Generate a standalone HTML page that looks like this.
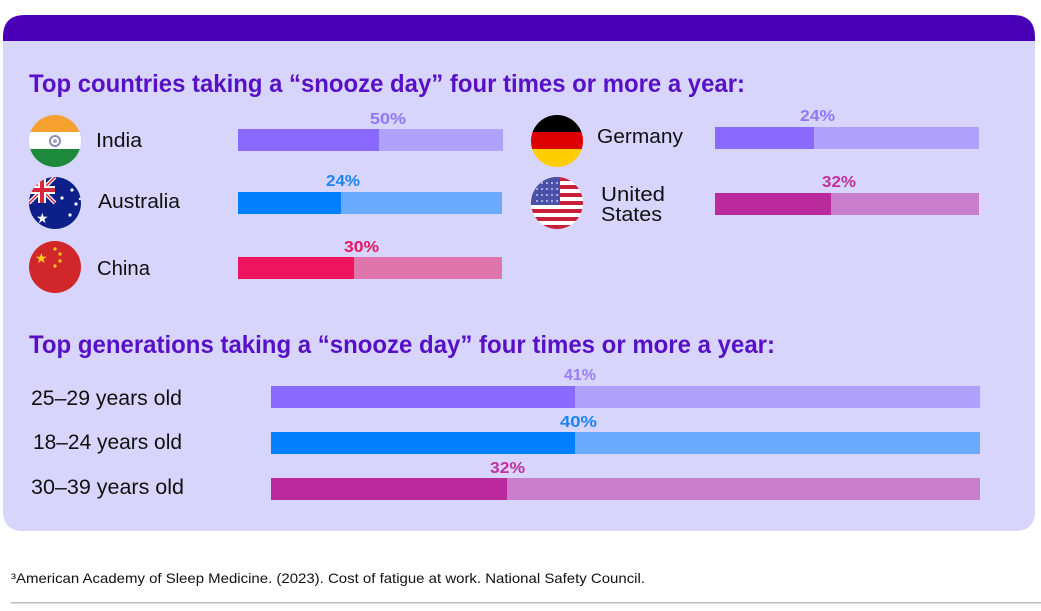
<!DOCTYPE html>
<html><head><meta charset="utf-8"><style>
html,body{margin:0;padding:0;background:#fff;}
svg{display:block;}
text{font-family:"Liberation Sans",sans-serif;}
</style></head><body>
<svg width="1041" height="611" viewBox="0 0 1041 611" xmlns="http://www.w3.org/2000/svg">
<defs>
<clipPath id="cIn"><circle cx="55" cy="141" r="26"/></clipPath>
<clipPath id="cAu"><circle cx="55" cy="203" r="26"/></clipPath>
<clipPath id="cCn"><circle cx="55" cy="267" r="26"/></clipPath>
<clipPath id="cDe"><circle cx="557" cy="141" r="26"/></clipPath>
<clipPath id="cUs"><circle cx="557" cy="203" r="26"/></clipPath>
</defs>
<!-- card -->
<path d="M3,37 Q3,15 25,15 L1013,15 Q1035,15 1035,37 L1035,511 Q1035,531 1015,531 L23,531 Q3,531 3,511 Z" fill="#d7d5fc"/>
<path d="M3,41 L3,37 Q3,15 25,15 L1013,15 Q1035,15 1035,37 L1035,41 Z" fill="#4a00b6"/>

<text x="29" y="92" font-size="25" font-weight="bold" fill="#5710c6" textLength="716" lengthAdjust="spacingAndGlyphs">Top countries taking a “snooze day” four times or more a year:</text>

<!-- India -->
<g clip-path="url(#cIn)">
<rect x="29" y="115" width="52" height="18" fill="#f6a02f"/>
<rect x="29" y="132" width="52" height="18" fill="#ffffff"/>
<rect x="29" y="149" width="52" height="19" fill="#1d8a3b"/>
<circle cx="55" cy="141" r="5" fill="none" stroke="#8a8ab8" stroke-width="2"/>
<circle cx="55" cy="141" r="2" fill="#a0a0c8"/>
</g>
<text x="96" y="147" font-size="20" fill="#111" textLength="46" lengthAdjust="spacingAndGlyphs">India</text>
<rect x="238" y="129" width="265" height="22" fill="#b0a1fc"/>
<rect x="238" y="129" width="141" height="22" fill="#8a6afe"/>
<text x="370" y="124" font-size="16" font-weight="bold" fill="#9177f8" textLength="36" lengthAdjust="spacingAndGlyphs">50%</text>

<!-- Australia -->
<g clip-path="url(#cAu)">
<rect x="29" y="177" width="52" height="52" fill="#0d1f8a"/>
<path d="M29,177 L55,203 M55,177 L29,203" stroke="#fff" stroke-width="4"/>
<path d="M29,177 L55,203 M55,177 L29,203" stroke="#d8263a" stroke-width="1.5"/>
<rect x="29" y="186" width="26" height="8" fill="#fff"/>
<rect x="38" y="177" width="8" height="26" fill="#fff"/>
<rect x="29" y="188" width="26" height="4" fill="#d8263a"/>
<rect x="40" y="177" width="4" height="26" fill="#d8263a"/>
<text x="36" y="223" font-size="14" fill="#fff">★</text>
<circle cx="72" cy="190" r="1.6" fill="#fff"/>
<circle cx="62" cy="198" r="1.6" fill="#fff"/>
<circle cx="76" cy="204" r="1.6" fill="#fff"/>
<circle cx="70" cy="215" r="1.6" fill="#fff"/>
<circle cx="80" cy="199" r="1.2" fill="#fff"/>
</g>
<text x="98" y="208" font-size="20" fill="#111" textLength="82" lengthAdjust="spacingAndGlyphs">Australia</text>
<rect x="238" y="192" width="264" height="22" fill="#6aaafe"/>
<rect x="238" y="192" width="103" height="22" fill="#0080fe"/>
<text x="326" y="186" font-size="16" font-weight="bold" fill="#1a84f5" textLength="34" lengthAdjust="spacingAndGlyphs">24%</text>

<!-- China -->
<g clip-path="url(#cCn)">
<rect x="29" y="241" width="52" height="52" fill="#d2272a"/>
<text x="35" y="263" font-size="14" fill="#ffd21a">★</text>
<circle cx="55" cy="249" r="1.6" fill="#ffd21a"/>
<circle cx="60" cy="254" r="1.6" fill="#ffd21a"/>
<circle cx="60" cy="261" r="1.6" fill="#ffd21a"/>
<circle cx="55" cy="266" r="1.6" fill="#ffd21a"/>
</g>
<text x="97" y="275" font-size="20" fill="#111" textLength="53" lengthAdjust="spacingAndGlyphs">China</text>
<rect x="238" y="257" width="264" height="22" fill="#e075ad"/>
<rect x="238" y="257" width="116" height="22" fill="#ee145e"/>
<text x="344" y="252" font-size="16" font-weight="bold" fill="#e8155f" textLength="35" lengthAdjust="spacingAndGlyphs">30%</text>

<!-- Germany -->
<g clip-path="url(#cDe)">
<rect x="531" y="115" width="52" height="18" fill="#000"/>
<rect x="531" y="132" width="52" height="18" fill="#dd0000"/>
<rect x="531" y="149" width="52" height="19" fill="#ffce00"/>
</g>
<text x="597" y="143" font-size="20" fill="#111" textLength="86" lengthAdjust="spacingAndGlyphs">Germany</text>
<rect x="715" y="127" width="264" height="22" fill="#b0a1fc"/>
<rect x="715" y="127" width="99" height="22" fill="#8a6afe"/>
<text x="800" y="121" font-size="16" font-weight="bold" fill="#9177f8" textLength="35" lengthAdjust="spacingAndGlyphs">24%</text>

<!-- US -->
<g clip-path="url(#cUs)">
<rect x="531" y="177" width="52" height="52" fill="#fff"/>
<rect x="531" y="177" width="52" height="4" fill="#c8203a"/>
<rect x="531" y="185" width="52" height="4" fill="#c8203a"/>
<rect x="531" y="193" width="52" height="4" fill="#c8203a"/>
<rect x="531" y="201" width="52" height="4" fill="#c8203a"/>
<rect x="531" y="209" width="52" height="4" fill="#c8203a"/>
<rect x="531" y="217" width="52" height="4" fill="#c8203a"/>
<rect x="531" y="225" width="52" height="4" fill="#c8203a"/>
<rect x="531" y="177" width="29" height="28" fill="#4a4fa8"/>
<g fill="#c8cbee">
<circle cx="537" cy="183" r="1"/><circle cx="542" cy="183" r="1"/><circle cx="547" cy="183" r="1"/><circle cx="552" cy="183" r="1"/><circle cx="557" cy="183" r="1"/>
<circle cx="537" cy="189" r="1"/><circle cx="542" cy="189" r="1"/><circle cx="547" cy="189" r="1"/><circle cx="552" cy="189" r="1"/><circle cx="557" cy="189" r="1"/>
<circle cx="537" cy="195" r="1"/><circle cx="542" cy="195" r="1"/><circle cx="547" cy="195" r="1"/><circle cx="552" cy="195" r="1"/><circle cx="557" cy="195" r="1"/>
<circle cx="537" cy="201" r="1"/><circle cx="542" cy="201" r="1"/><circle cx="547" cy="201" r="1"/><circle cx="552" cy="201" r="1"/><circle cx="557" cy="201" r="1"/>
</g>
</g>
<text x="601" y="201" font-size="20" fill="#111" textLength="64" lengthAdjust="spacingAndGlyphs">United</text>
<text x="601" y="221" font-size="20" fill="#111" textLength="61" lengthAdjust="spacingAndGlyphs">States</text>
<rect x="715" y="193" width="264" height="22" fill="#c87ecb"/>
<rect x="715" y="193" width="116" height="22" fill="#bb2a9c"/>
<text x="822" y="187" font-size="16" font-weight="bold" fill="#c0309f" textLength="34" lengthAdjust="spacingAndGlyphs">32%</text>

<!-- Generations -->
<text x="29" y="353" font-size="25" font-weight="bold" fill="#5710c6" textLength="746" lengthAdjust="spacingAndGlyphs">Top generations taking a “snooze day” four times or more a year:</text>

<text x="31" y="405" font-size="21" fill="#111" textLength="151" lengthAdjust="spacingAndGlyphs">25–29 years old</text>
<rect x="271" y="386" width="709" height="22" fill="#b0a1fc"/>
<rect x="271" y="386" width="304" height="22" fill="#8a6afe"/>
<text x="564" y="380" font-size="16" font-weight="bold" fill="#9a7cf8" textLength="32" lengthAdjust="spacingAndGlyphs">41%</text>

<text x="33" y="449" font-size="21" fill="#111" textLength="149" lengthAdjust="spacingAndGlyphs">18–24 years old</text>
<rect x="271" y="432" width="709" height="22" fill="#6aaafe"/>
<rect x="271" y="432" width="304" height="22" fill="#0080fe"/>
<text x="560" y="427" font-size="16" font-weight="bold" fill="#1a84f5" textLength="37" lengthAdjust="spacingAndGlyphs">40%</text>

<text x="31" y="494" font-size="21" fill="#111" textLength="153" lengthAdjust="spacingAndGlyphs">30–39 years old</text>
<rect x="271" y="478" width="709" height="22" fill="#c87ecb"/>
<rect x="271" y="478" width="236" height="22" fill="#bb2a9c"/>
<text x="490" y="473" font-size="16" font-weight="bold" fill="#c0309f" textLength="35" lengthAdjust="spacingAndGlyphs">32%</text>

<!-- footnote -->
<text x="11" y="583" font-size="14" fill="#111" textLength="634" lengthAdjust="spacingAndGlyphs">³American Academy of Sleep Medicine. (2023). Cost of fatigue at work. National Safety Council.</text>
<rect x="11" y="602" width="1030" height="1.5" fill="#bcbcbc"/>
</svg>
</body></html>
